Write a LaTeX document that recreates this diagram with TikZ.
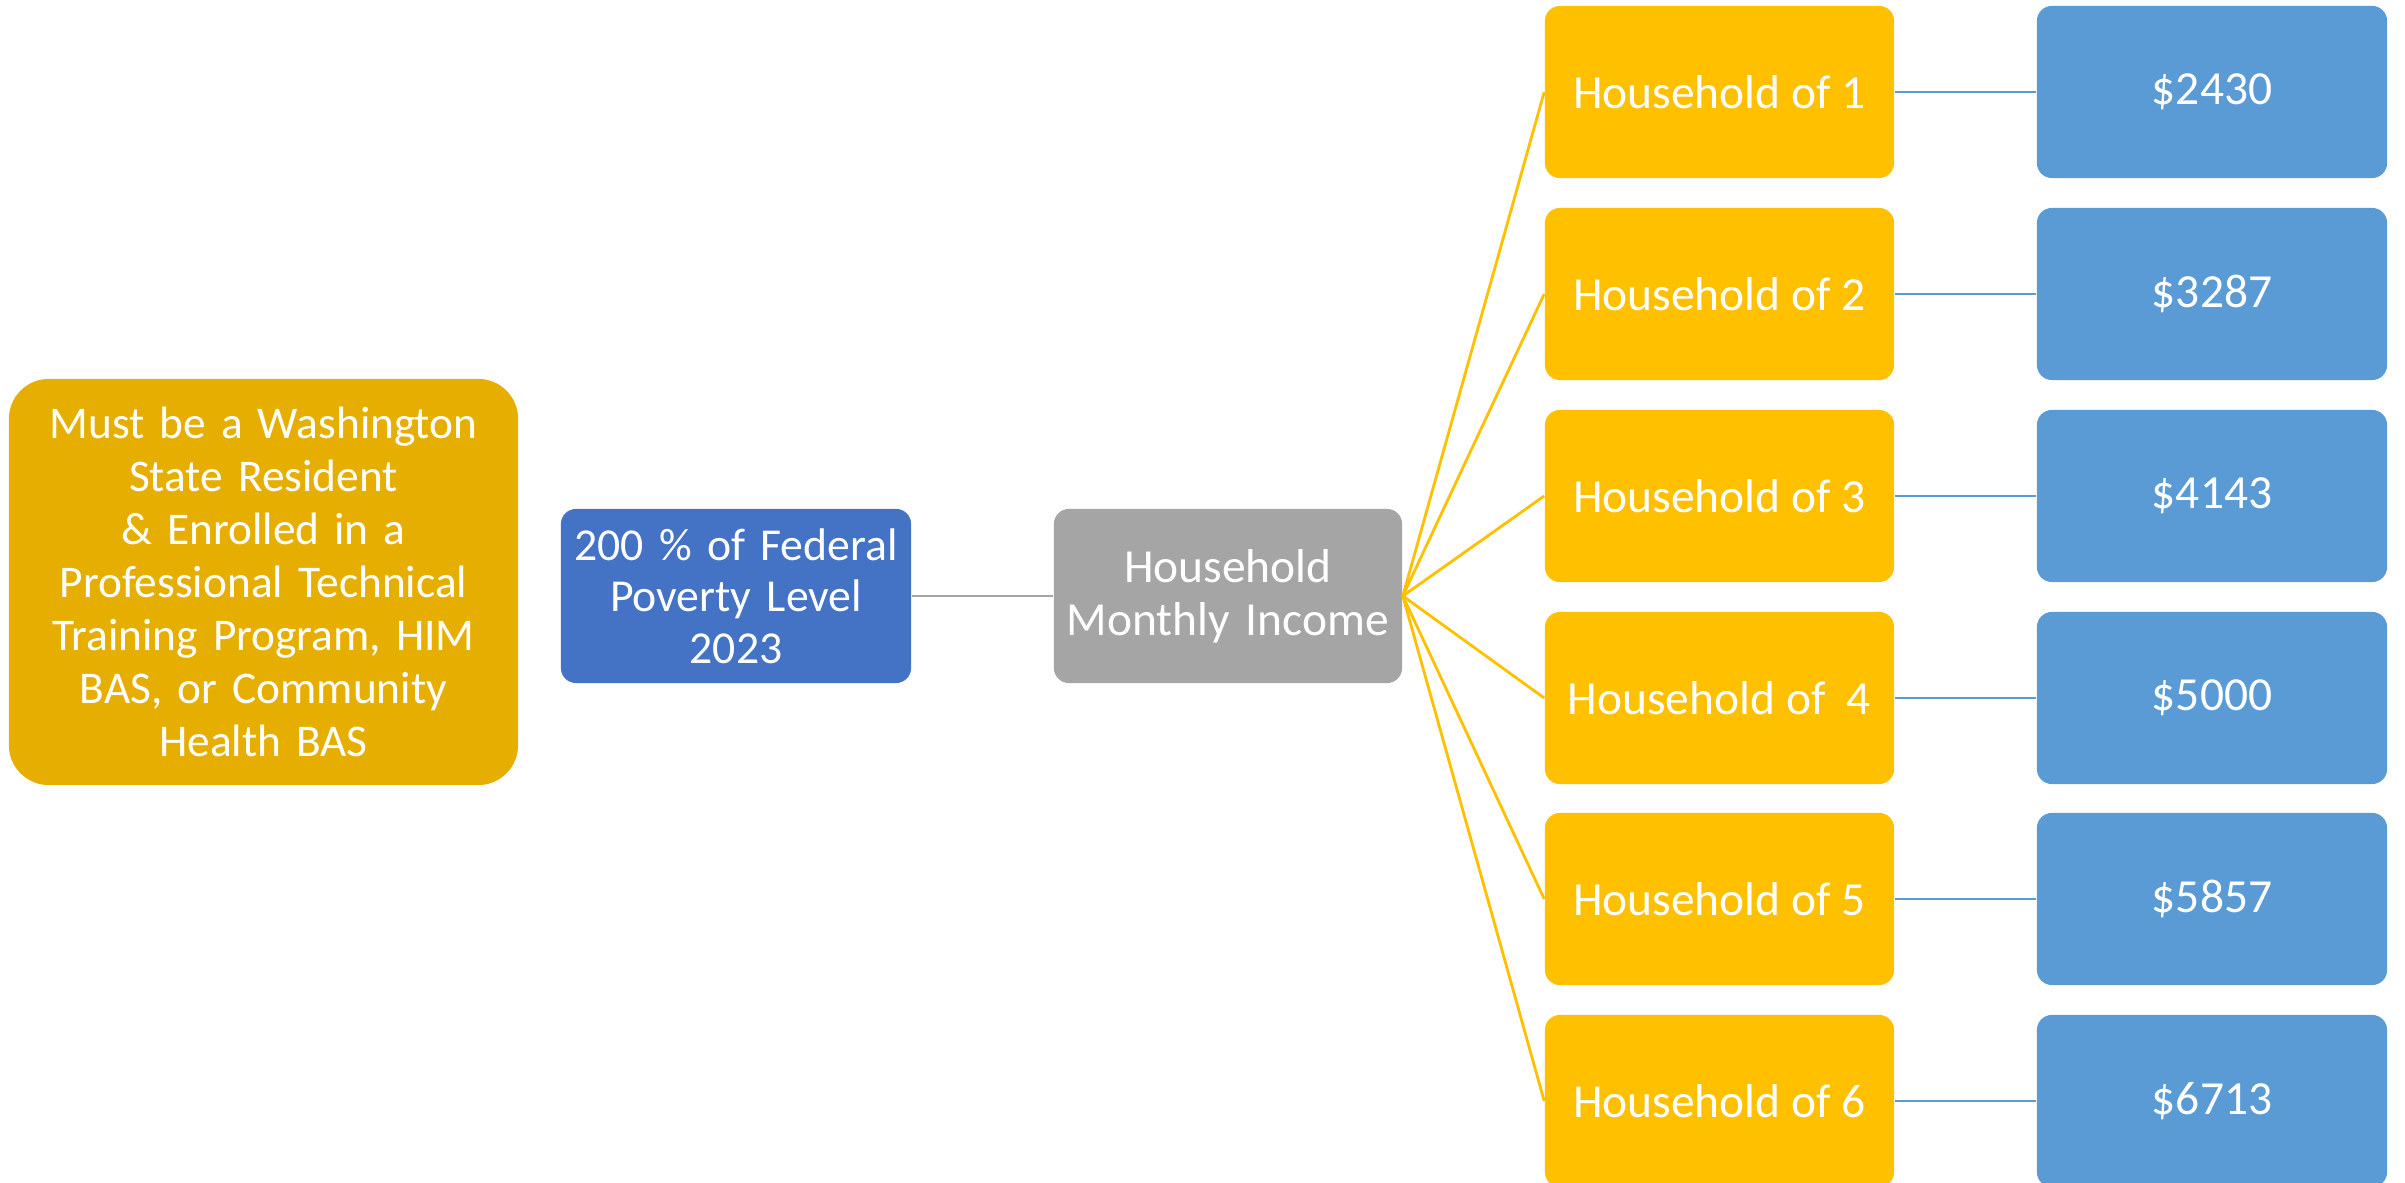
\documentclass[tikz,border=0pt]{standalone}
\usepackage{fontspec}
\setmainfont{Carlito}
\definecolor{gold}{HTML}{E6AF00}
\definecolor{amber}{HTML}{FFC000}
\definecolor{navy}{HTML}{4472C4}
\definecolor{stone}{HTML}{A5A5A5}
\definecolor{sky}{HTML}{5B9BD5}
\begin{document}
\begin{tikzpicture}[x=0.01cm,y=-0.01cm,
  box/.style={rounded corners=0.15cm, inner sep=0pt, text=white, align=center,
    font=\fontsize{13.5}{15}\selectfont, minimum height=1.73cm},
  big/.style={box, fill=gold, rounded corners=0.4cm, minimum width=5.09cm, minimum height=4.06cm, text width=4.9cm,
    font=\fontsize{12.9}{15.1}\selectfont},
  fpl/.style={box, fill=navy, minimum width=3.5cm, minimum height=1.74cm, text width=3.4cm,
    font=\fontsize{13}{14.6}\selectfont},
  hmi/.style={box, fill=stone, minimum width=3.48cm, minimum height=1.74cm, text width=3.4cm},
  hh/.style={box, fill=amber, minimum width=3.49cm, minimum height=1.72cm},
  amt/.style={box, fill=sky, minimum width=3.5cm, minimum height=1.72cm},
  gline/.style={draw=stone, line width=0.8pt},
  oline/.style={draw=amber, line width=0.8pt},
  bline/.style={draw=sky, line width=0.8pt}]
\useasboundingbox (0,0) rectangle (2405,1183);
\node[big] (res) at (263.5,582) {Must be a Washington\\State Resident\\\& Enrolled in a\\Professional Technical\\Training Program, HIM\\BAS, or Community\\Health BAS};
\node[fpl] (fpl) at (736,596) {200 \% of Federal\\Poverty Level\\2023};
\node[hmi] (hmi) at (1228,596) {Household\\Monthly Income};
\foreach \i/\y/\lab/\amt in {1/92/Household of 1/\$2430, 2/294/Household of 2/\$3287, 3/496/Household of 3/\$4143, 4/698/Household of\ \ 4/\$5000, 5/899/Household of 5/\$5857, 6/1101/Household of 6/\$6713}{
  \node[hh] (h\i) at (1719.5,\y) {\lab};
  \node[amt] (a\i) at (2212,\y) {\amt};
  \draw[oline] (hmi.east) -- (h\i.west);
  \draw[bline] (h\i.east) -- (a\i.west);
}
\draw[gline] (fpl.east) -- (hmi.west);
\end{tikzpicture}
\end{document}
